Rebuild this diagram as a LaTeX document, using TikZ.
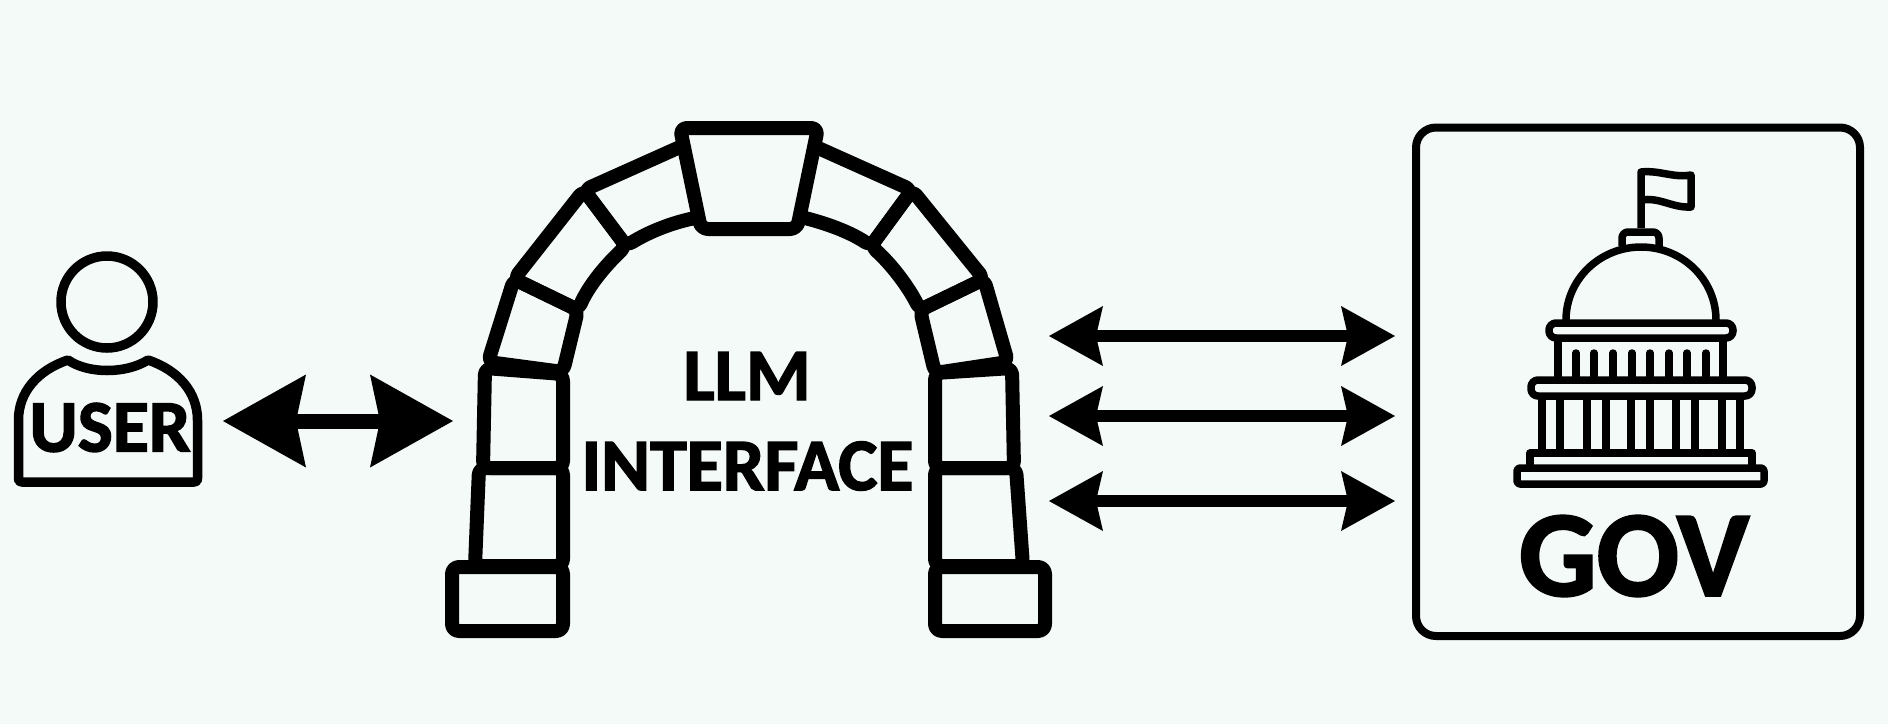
\documentclass[tikz,border=0pt]{standalone}
\usepackage{fontspec}
\setmainfont{Carlito}[BoldFeatures={FakeBold=2}]
\usepackage{tikz}
\usetikzlibrary{arrows.meta,positioning}
\definecolor{paper}{HTML}{F3FAF8}
\begin{document}
\begin{tikzpicture}[
  x=1pt, y=-1pt,
  stone/.style={draw=black, line width=14pt, rounded corners=7pt, line join=round},
  icon/.style={draw=black, line width=9.5pt, line join=round},
  thin/.style={draw=black, line width=7.5pt, line join=round},
  word/.style={inner sep=0pt, font=\fontsize{74}{74}\selectfont\bfseries},
  bigarr/.style={line width=15pt, {Stealth[length=83pt, width=93pt, inset=10pt, line width=0pt]}-{Stealth[length=83pt, width=93pt, inset=10pt, line width=0pt]}},
  arr/.style={line width=12pt, {Stealth[length=54pt, width=60pt, inset=7pt, line width=0pt]}-{Stealth[length=54pt, width=60pt, inset=7pt, line width=0pt]}}
]
\useasboundingbox[fill=paper] (0,0) rectangle (1888,724);
% user
\draw[icon] (107,302) circle (46);
\draw[icon] (68,360) .. controls (88,374) and (126,374) .. (148,360)
  .. controls (178,370) and (197.5,392) .. (197.5,420) -- (197.5,478) .. controls (197.5,481) .. (194,482)
  -- (22,482) .. controls (18.5,481) .. (18.5,478) -- (18.5,420) .. controls (18.5,392) and (38,370) .. (68,360) -- cycle;
\node[word] (user) at (110,427.5) {USER};
% arch, left side then right side
\draw[stone] (680,128) -- (818,128) -- (797,229) -- (701,229) -- cycle;
\draw[stone] (680,147) -- (584,190) -- (626,246) .. controls (647,233) and (670,223) .. (695,218);
\draw[stone] (584,190) -- (514,279) -- (578,310) .. controls (589,285) and (606,265) .. (626,246) -- cycle;
\draw[stone] (514,279) -- (488,362) -- (563,372) -- (578,310) -- cycle;
\draw[stone] (485,368) -- (483,468) -- (563,468) -- (563,374) -- cycle;
\draw[stone] (479,468) -- (475,566) -- (563,566) -- (563,468) -- cycle;
\draw[stone] (452,567) -- (452,631) -- (563,631) -- (563,567) -- cycle;
\draw[stone] (816,147) -- (912,190) -- (871,246) .. controls (850,232) and (826,223) .. (801,217);
\draw[stone] (912,190) -- (984,279) -- (920,310) .. controls (908,286) and (891,264) .. (871,246) -- cycle;
\draw[stone] (984,279) -- (1008,362) -- (935,373) -- (920,310) -- cycle;
\draw[stone] (1012,368) -- (1014,468) -- (935,468) -- (935,373) -- cycle;
\draw[stone] (1016,468) -- (1023,566) -- (935,566) -- (935,468) -- cycle;
\draw[stone] (1045,567) -- (1045,631) -- (935,631) -- (935,567) -- cycle;
\node[word] (llm) at (747,376) {LLM};
\node[word] (iface) at (747.5,466) {INTERFACE};
% gov frame
\draw[icon, line width=8pt, rounded corners=20pt] (1416,127.5) rectangle (1860,636);
\draw[thin] (1641,228) -- (1641,172) .. controls (1660,170) and (1672,178) .. (1691,175) -- (1691,207)
  .. controls (1672,208) and (1660,197) .. (1641,200);
\draw[thin, rounded corners=6pt] (1622,246) -- (1622,232) -- (1659,232) -- (1659,246);
\draw[thin] (1566,320) arc[start angle=180, end angle=360, x radius=75, y radius=73];
\draw[thin, rounded corners=7pt] (1549,323) rectangle (1733,338);
\draw[thin] (1558,338) -- (1558,380);
\draw[thin] (1723,338) -- (1723,380);
\foreach \cx in {1576,1594,1613,1632,1650,1669,1687,1706}
  \draw[thin, line cap=round] (\cx,353) -- (\cx,380);
\draw[thin, rounded corners=7pt] (1531,380) rectangle (1752,396);
\foreach \cx in {1542,1560,1587,1606,1631,1650,1676,1695,1722,1740}
  \draw[thin] (\cx,396) -- (\cx,453);
\draw[thin] (1530,468) -- (1530,453) -- (1752,453) -- (1752,468);
\draw[thin, rounded corners=3pt] (1517,468) rectangle (1764,484);
\node[inner sep=0pt, font=\fontsize{122}{122}\selectfont\bfseries] (gov) at (1634,556) {GOV};
% links
\coordinate (userR) at (223,421);
\coordinate (archL) at (453,421);
\draw[bigarr] (userR) -- (archL);
\foreach \ly/\lname in {336/a,416/b,501/c} {
  \coordinate (arch\lname) at (1049,\ly);
  \coordinate (gov\lname) at (1395,\ly);
  \draw[arr] (arch\lname) -- (gov\lname);
}
\end{tikzpicture}
\end{document}
